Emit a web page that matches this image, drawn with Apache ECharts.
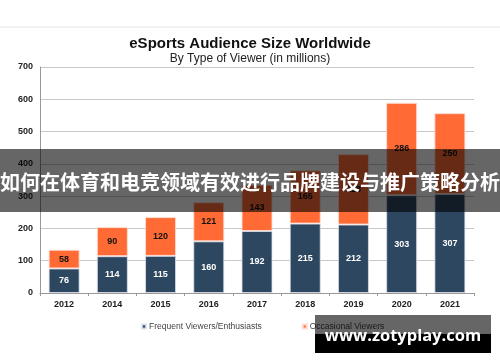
<!DOCTYPE html>
<html><head><meta charset="utf-8">
<script src="https://cdn.jsdelivr.net/npm/echarts@6/dist/echarts.min.js"></script>
<style>html,body{margin:0;padding:0;background:#fff}#c{width:500px;height:362px}</style>
</head><body><div id="c"></div>
<script>
const categories = ['2012','2014','2015','2016','2017','2018','2019','2020','2021'];
const frequentViewers = [76,114,115,160,192,215,212,303,307];
const occasionalViewers = [58,90,120,121,143,165,218,286,250];
const yTicks = [0,100,200,300,400,500,600,700];
const titleText = 'eSports Audience Size Worldwide';
const subtitleText = 'By Type of Viewer (in millions)';
const bannerText = '如何在体育和电竞领域有效进行品牌建设与推广策略分析';
const watermarkText = 'www.zotyplay.com';

const chart = echarts.init(document.getElementById('c'), null, {renderer:'canvas'});
const F = '"Liberation Sans", Arial, sans-serif';
chart.setOption({
  animation:false,
  textStyle:{fontFamily:F},
  title:{
    text:titleText, subtext:subtitleText,
    left:'center', top:31, itemGap:2,
    textStyle:{fontSize:15,fontWeight:'bold',color:'#111',fontFamily:F},
    subtextStyle:{fontSize:12,color:'#222',fontFamily:F}
  },
  legend:{
    data:['Frequent Viewers/Enthusiasts','Occasional Viewers'],
    left:136, top:317, itemWidth:4, itemHeight:4, itemGap:40,
    icon:'rect',
    textStyle:{fontSize:8.5,color:'#444',fontFamily:F, padding:[0,0,0,-2]}
  },
  grid:{left:40,right:26,top:67,bottom:69},
  xAxis:{
    type:'category', data:categories,
    axisLine:{lineStyle:{color:'#999'}},
    axisTick:{show:true,length:3,lineStyle:{color:'#999'}},
    axisLabel:{fontSize:9,fontWeight:'bold',color:'#222',margin:7}
  },
  yAxis:{
    type:'value', min:yTicks[0], max:yTicks[yTicks.length-1], interval:100,
    axisLine:{show:true,lineStyle:{color:'#999'}},
    axisTick:{show:false},
    splitLine:{lineStyle:{color:'#c8c8c8'}},
    axisLabel:{fontSize:9,fontWeight:'bold',color:'#222',margin:7}
  },
  series:[
    {name:'Frequent Viewers/Enthusiasts',type:'bar',stack:'a',data:frequentViewers,barWidth:31,
     itemStyle:{color:'#2E4760',borderColor:'rgba(220,225,235,0.8)',borderWidth:1},
     label:{show:true,position:'inside',color:'#fff',fontSize:9,fontWeight:'bold',fontFamily:F}},
    {name:'Occasional Viewers',type:'bar',stack:'a',data:occasionalViewers,barWidth:31,
     itemStyle:{color:'#FF6A35',borderColor:'rgba(255,220,210,0.9)',borderWidth:1},
     label:{show:true,position:'inside',color:'#111',fontSize:9,fontWeight:'bold',fontFamily:F}}
  ],
  graphic:[
    {type:'line',shape:{x1:0,y1:27,x2:500,y2:27},style:{stroke:'#e4e4e4',lineWidth:1},z:50},
    {type:'rect',shape:{x:0,y:149,width:500,height:63},style:{fill:'rgba(0,0,0,0.6)'},z:100},
    {type:'text',x:250,y:182,z:101,style:{text:bannerText,fill:'#fff',fontSize:20,fontWeight:'bold',
      fontFamily:'"Noto Sans CJK SC", sans-serif',align:'center',verticalAlign:'middle'}},
    {type:'rect',shape:{x:315,y:315,width:176,height:19},style:{fill:'rgba(0,0,0,0.6)'},z:100},
    {type:'rect',shape:{x:315,y:334,width:176,height:19},style:{fill:'#000'},z:100},
    {type:'text',x:403,y:336,z:101,style:{text:watermarkText,fill:'#fff',fontSize:16.5,fontWeight:'bold',
      fontFamily:'"Open Sans", "Noto Sans", sans-serif',align:'center',verticalAlign:'middle'}}
  ]
});
</script></body></html>
